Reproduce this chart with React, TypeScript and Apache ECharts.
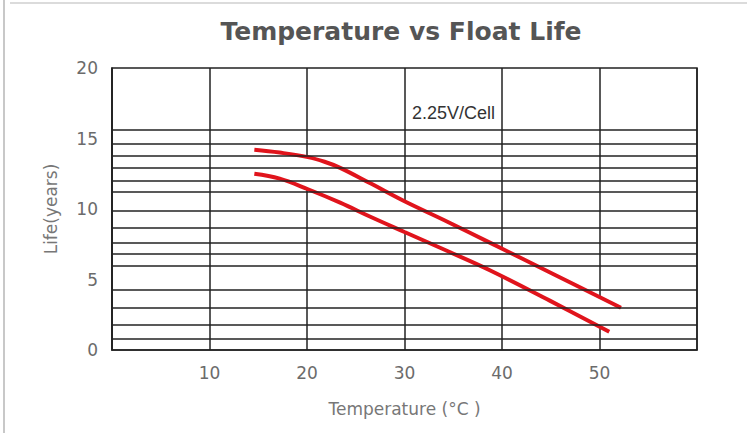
import React, { useEffect, useRef } from "react";
import * as echarts from "echarts";

const titleText = "Temperature vs Float Life";
const noteText = "2.25V/Cell";
const xAxisName = "Temperature (°C )";
const yAxisName = "Life(years)";

const xTicks = [10, 20, 30, 40, 50];
const yTicks = [0, 5, 10, 15, 20];

// horizontal ruling lines of the chart (years)
const gridLineLife = [15.6, 14.6, 13.8, 12.9, 12.0, 11.2, 9.9, 8.7, 7.6, 6.8, 6.0, 4.3, 3.0, 1.8, 0.8];

// upper boundary curve
const upperTemp = [14.6, 17.2, 20.1, 21.8, 23.4, 26.5, 30.0, 34.4, 38.8, 45.5, 52.2];
const upperLife = [14.2, 14.0, 13.68, 13.35, 12.92, 11.82, 10.55, 9.1, 7.6, 5.3, 3.0];

// lower boundary curve
const lowerTemp = [14.6, 17.2, 20.1, 23.4, 26.5, 30.0, 34.4, 38.8, 44.9, 51.0];
const lowerLife = [12.5, 12.15, 11.4, 10.45, 9.45, 8.37, 7.02, 5.64, 3.5, 1.3];

const RED = "#e0141c";
const INK = "#222";
const LABEL = "#6b6b6b";
const FONT = "DejaVu Sans";

export default function App() {
  const ref = useRef<HTMLDivElement>(null);

  useEffect(() => {
    if (!ref.current) return;
    const chart = echarts.init(ref.current, null, { renderer: "svg" });

    const upperData = upperTemp.map((t, i) => [t, upperLife[i]]);
    const lowerData = lowerTemp.map((t, i) => [t, lowerLife[i]]);

    chart.setOption({
      animation: false,
      backgroundColor: "#fff",
      grid: {
        left: 112,
        right: 50,
        top: 68,
        bottom: 83,
        show: true,
        borderColor: INK,
        borderWidth: 1.5,
        backgroundColor: "transparent",
      },
      graphic: [
        {
          type: "line",
          shape: { x1: 4, y1: 0, x2: 4, y2: 433 },
          style: { stroke: "#c8c8c8", lineWidth: 2 },
          silent: true,
        },
        {
          type: "line",
          shape: { x1: 10, y1: 3, x2: 747, y2: 3 },
          style: { stroke: "#cfcfcf", lineWidth: 1.5 },
          silent: true,
        },
        {
          type: "text",
          x: 401,
          y: 31,
          style: {
            text: titleText,
            fill: "#555",
            font: "bold 25px 'DejaVu Sans'",
            align: "center",
            verticalAlign: "middle",
          },
          silent: true,
        },
        {
          type: "text",
          x: 412,
          y: 113,
          z: 10,
          style: {
            text: noteText,
            fill: "#333",
            font: "18px 'Liberation Sans'",
            align: "left",
            verticalAlign: "middle",
          },
          silent: true,
        },
      ],
      xAxis: {
        type: "value",
        min: 0,
        max: 60,
        interval: 10,
        name: xAxisName,
        nameLocation: "middle",
        nameGap: 50,
        nameTextStyle: { color: "#777", fontSize: 17, fontFamily: FONT },
        axisLine: { show: true, lineStyle: { color: INK, width: 1.5 } },
        axisTick: { show: false },
        axisLabel: {
          color: LABEL,
          fontSize: 17,
          fontFamily: FONT,
          margin: 14,
          formatter: (v: number) => (xTicks.includes(v) ? String(v) : ""),
        },
        splitLine: { show: true, lineStyle: { color: INK, width: 1.5 } },
      },
      yAxis: {
        type: "value",
        min: 0,
        max: 20,
        interval: 5,
        name: yAxisName,
        nameLocation: "middle",
        nameGap: 53,
        nameTextStyle: { color: "#777", fontSize: 17, fontFamily: FONT },
        axisLine: { show: true, lineStyle: { color: INK, width: 1.5 } },
        axisTick: { show: false },
        axisLabel: {
          color: LABEL,
          fontSize: 17,
          fontFamily: FONT,
          margin: 14,
          formatter: (v: number) => (yTicks.includes(v) ? String(v) : ""),
        },
        splitLine: { show: false },
      },
      series: [
        {
          type: "line",
          name: "rules",
          data: [],
          z: 1,
          silent: true,
          markLine: {
            silent: true,
            symbol: "none",
            animation: false,
            label: { show: false },
            lineStyle: { color: INK, width: 1.5, type: "solid" },
            data: gridLineLife.map((v) => ({ yAxis: v })),
          },
        },
        {
          type: "custom",
          name: "band",
          z: 2,
          silent: true,
          data: [[upperTemp[0], upperLife[0]]],
          renderItem: (_params: any, api: any) => {
            const pts: number[][] = [];
            for (let i = 0; i < upperTemp.length; i++) pts.push(api.coord([upperTemp[i], upperLife[i]]));
            for (let i = lowerTemp.length - 1; i >= 0; i--) pts.push(api.coord([lowerTemp[i], lowerLife[i]]));
            return {
              type: "polygon",
              shape: { points: pts },
              style: { fill: "#fff", stroke: "none" },
            };
          },
        },
        {
          type: "line",
          name: "upper",
          data: upperData,
          z: 3,
          smooth: 0.4,
          symbol: "none",
          lineStyle: { color: RED, width: 4 },
          silent: true,
        },
        {
          type: "line",
          name: "lower",
          data: lowerData,
          z: 3,
          smooth: 0.4,
          symbol: "none",
          lineStyle: { color: RED, width: 4 },
          silent: true,
        },
      ],
    });

    return () => chart.dispose();
  }, []);

  return (
    <div
      ref={ref}
      style={{ position: "fixed", left: 0, top: 0, width: 747, height: 433, background: "#fff" }}
    />
  );
}
